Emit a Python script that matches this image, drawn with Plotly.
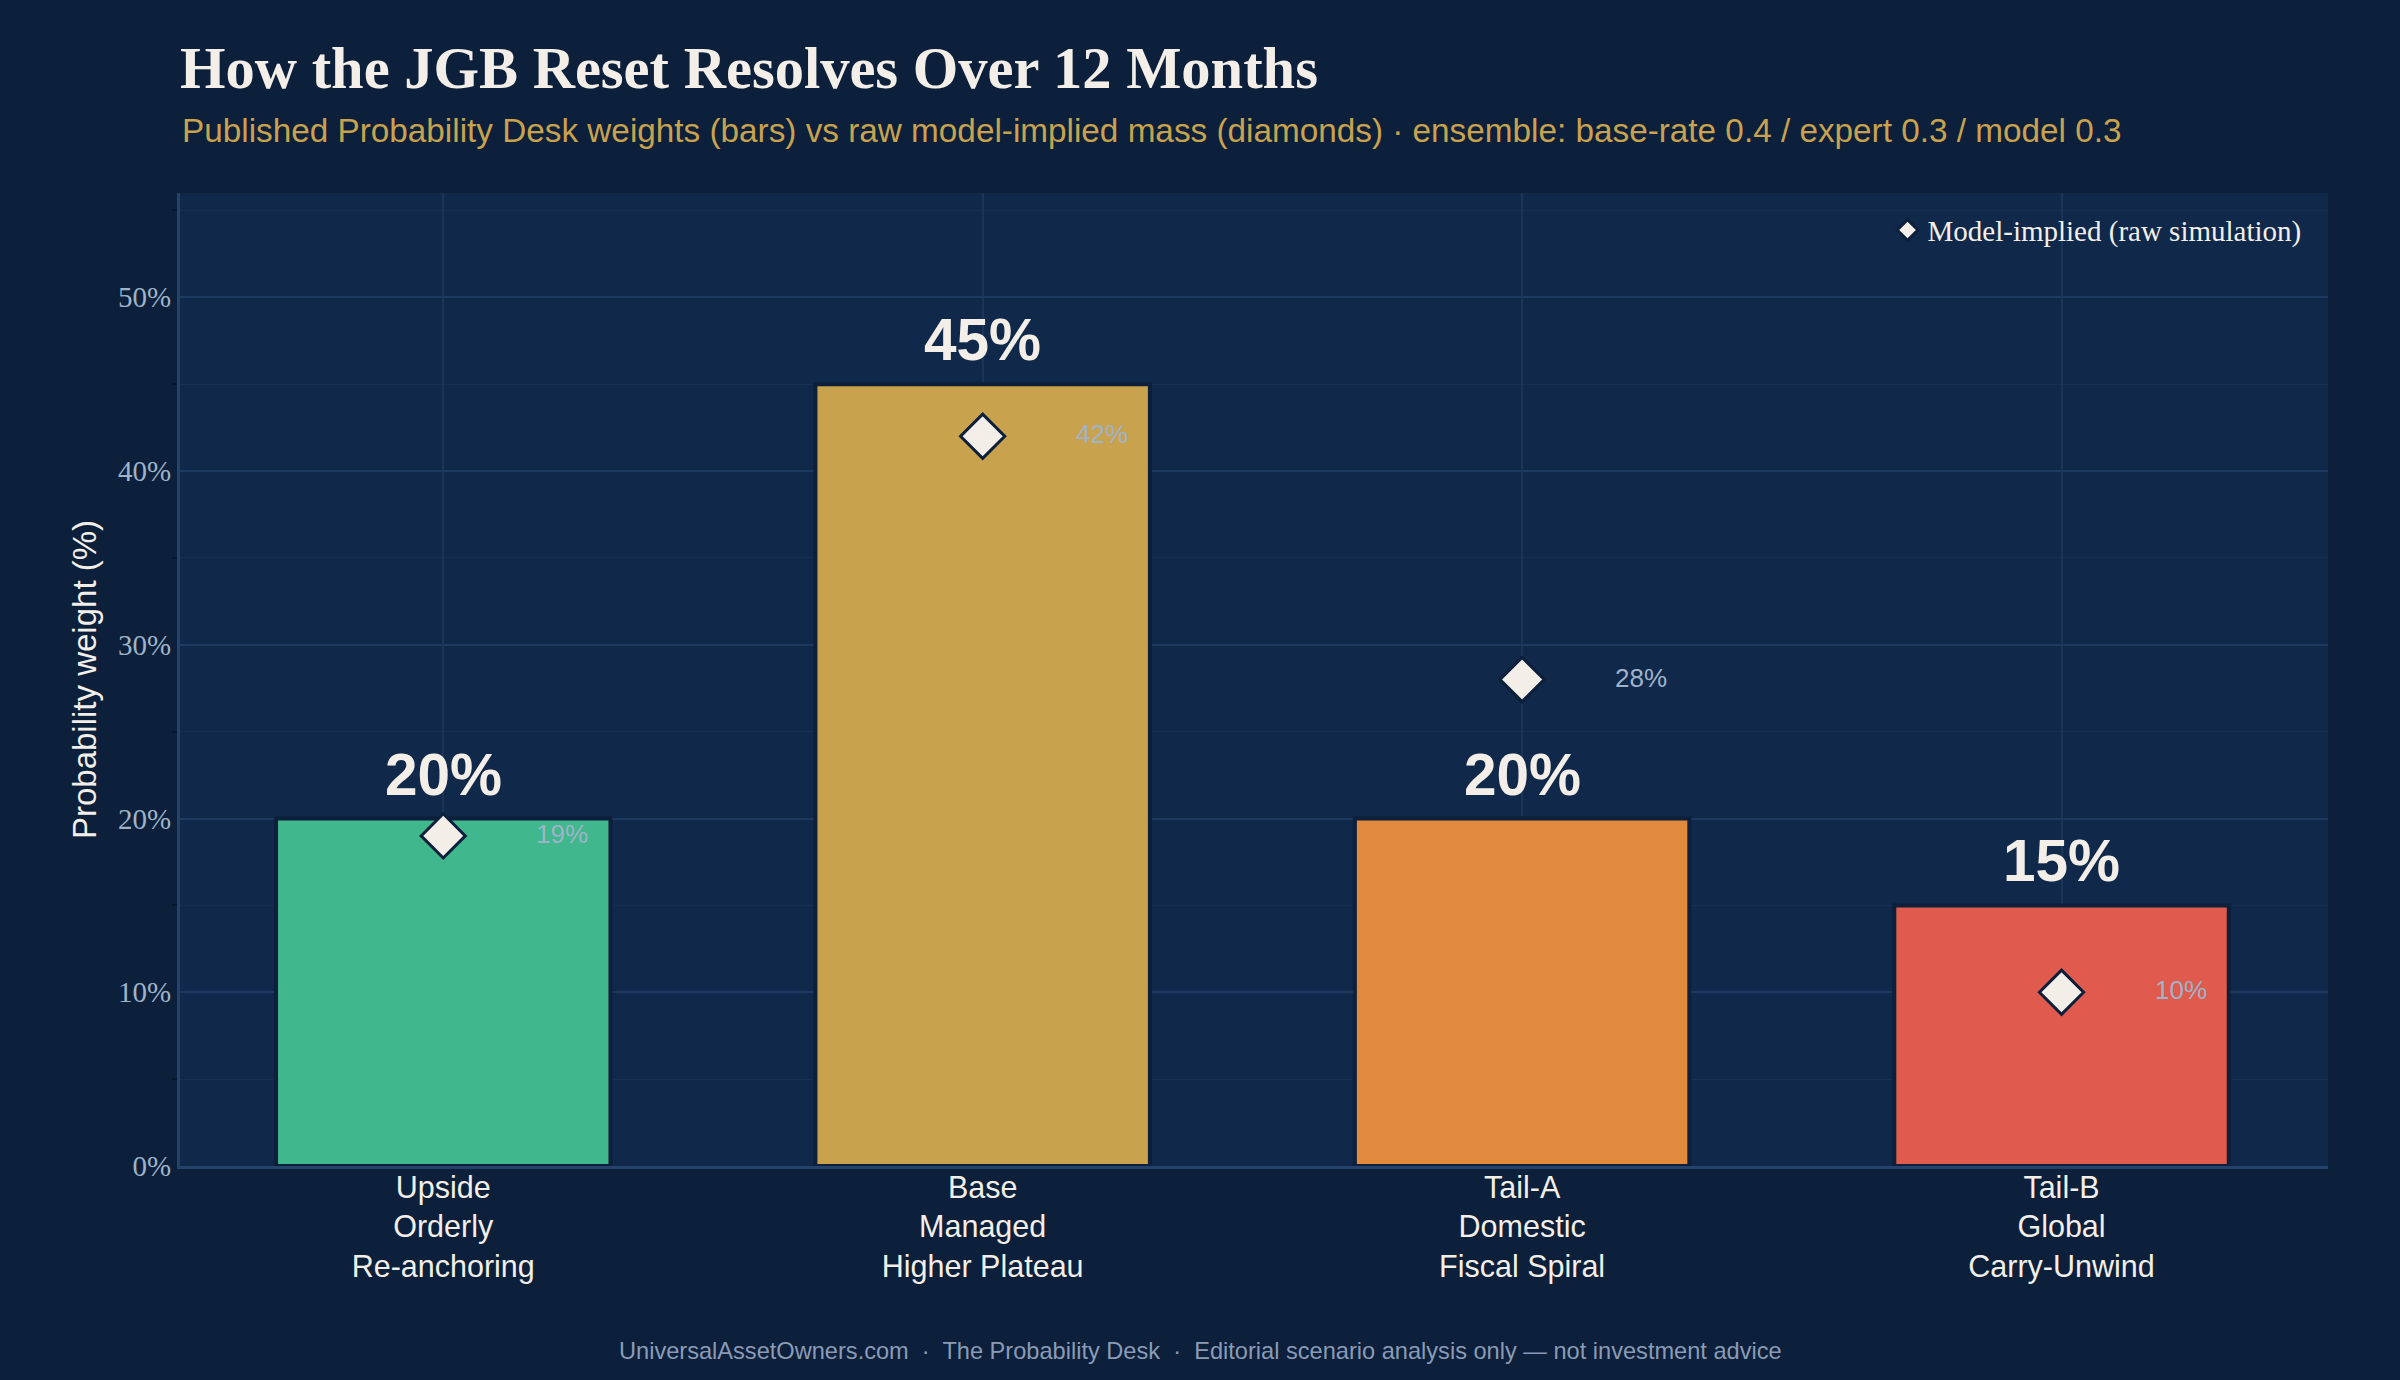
import plotly.graph_objects as go

categories = ["Upside<br>Orderly<br>Re-anchoring", "Base<br>Managed<br>Higher Plateau",
              "Tail-A<br>Domestic<br>Fiscal Spiral", "Tail-B<br>Global<br>Carry-Unwind"]
published = [20, 45, 20, 15]
model_implied = [19, 42, 28, 10]
bar_colors = ["#40b78c", "#c9a24e", "#e18a3e", "#e05a4d"]

PAPER = "#0c1f3b"
PLOT = "#10284a"
CREAM = "#f3efe8"
MUTED = "#9fb3c8"

fig = go.Figure()
fig.add_trace(go.Bar(
    x=categories, y=published, marker=dict(color=bar_colors, line=dict(color=PAPER, width=4)),
    width=0.62, showlegend=False, hoverinfo="skip"))
fig.add_trace(go.Scatter(
    x=categories, y=model_implied, mode="markers", name="Model-implied (raw simulation)",
    marker=dict(symbol="diamond", size=34, color=CREAM, line=dict(color=PAPER, width=3))))

for c, v in zip(categories, published):
    fig.add_annotation(x=c, y=v, text=f"<b>{v}%</b>", showarrow=False, yanchor="bottom", yshift=10,
                       font=dict(family="Liberation Sans, Arial", size=58.5, color=CREAM))
for c, v in zip(categories, model_implied):
    fig.add_annotation(x=c, y=v, text=f"{v}%", showarrow=False, xshift=119, yshift=2,
                       font=dict(family="Liberation Sans, Arial", size=26, color=MUTED))

fig.add_annotation(xref="paper", yref="paper", x=0, y=1.0647, xanchor="left", yanchor="middle",
                   showarrow=False,
                   text="Published Probability Desk weights (bars) vs raw model-implied mass (diamonds) · ensemble: base-rate 0.4 / expert 0.3 / model 0.3",
                   font=dict(family="Liberation Sans, Arial", size=33.3, color="#c9a24e"))
fig.add_annotation(xref="paper", yref="paper", x=0.4749, y=-0.19, xanchor="center", yanchor="middle",
                   showarrow=False,
                   text="UniversalAssetOwners.com  ·  The Probability Desk  ·  Editorial scenario analysis only — not investment advice",
                   font=dict(family="Liberation Sans, Arial", size=23.6, color="#8a9bb5"))

fig.update_layout(
    width=2400, height=1380,
    paper_bgcolor=PAPER, plot_bgcolor=PLOT,
    margin=dict(l=180, r=72, t=193, b=214),
    title=dict(text="<b>How the JGB Reset Resolves Over 12 Months</b>", x=180/2400, xanchor="left",
               xref="container", yref="container", y=1 - 68/1380, yanchor="middle",
               font=dict(family="Liberation Serif, Times New Roman", size=58.5, color=CREAM)),
    legend=dict(x=0.99, y=0.988, xanchor="right", yanchor="top", bgcolor="rgba(0,0,0,0)",
                font=dict(family="Liberation Serif, Times New Roman", size=29, color=CREAM)),
    bargap=0.38,
)
fig.update_xaxes(range=[-0.488, 3.494], showgrid=True, gridcolor="#1b3558", gridwidth=2, showline=True,
                 linecolor="#24426b", linewidth=3, ticks="", ticklabelstandoff=-8,
                 tickfont=dict(family="Liberation Sans, Arial", size=30.5, color=CREAM))
fig.update_yaxes(range=[0, 56], dtick=10, ticksuffix="%", showgrid=True, gridcolor="#1e3a60", gridwidth=2,
                 showline=True, linecolor="#24426b", linewidth=3, ticks="", zeroline=False,
                 tickfont=dict(family="Liberation Serif, Times New Roman", size=29, color=MUTED),
                 minor=dict(dtick=5, showgrid=True, gridcolor="#17304f", gridwidth=1, ticks="outside",
                            ticklen=5, tickcolor="#081428", tickwidth=2),
                 title=dict(text="Probability weight (%)", standoff=12,
                            font=dict(family="Liberation Sans, Arial", size=33, color=CREAM)))

fig.write_html("out.html")
